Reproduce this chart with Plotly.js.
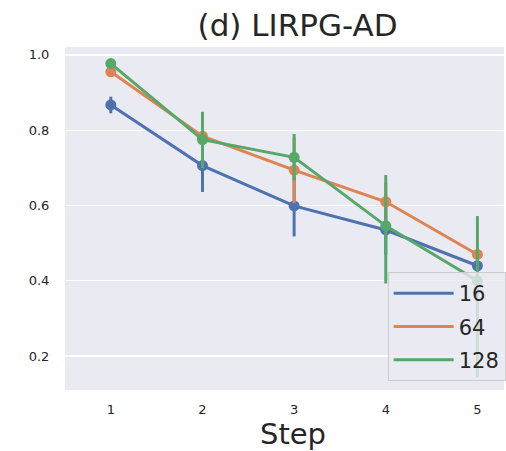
<!DOCTYPE html>
<html><head><meta charset="utf-8">
<script src="https://cdn.plot.ly/plotly-3.0.1.min.js"></script>
<style>html,body{margin:0;padding:0;background:#fff}</style>
</head><body><div id="chart" style="width:506px;height:451px"></div>
<script>
const steps = [1, 2, 3, 4, 5];
const seriesNames = ["16", "64", "128"];
const mean16 = [0.867, 0.706, 0.599, 0.535, 0.440];
const hi16 = [0.889, 0.770, 0.680, 0.600, 0.452];
const lo16 = [0.845, 0.636, 0.518, 0.470, 0.428];
const mean64 = [0.955, 0.784, 0.694, 0.610, 0.470];
const hi64 = [0.962, 0.800, 0.780, 0.660, 0.480];
const lo64 = [0.948, 0.768, 0.606, 0.560, 0.460];
const mean128 = [0.977, 0.775, 0.728, 0.546, 0.400];
const hi128 = [0.983, 0.849, 0.790, 0.681, 0.572];
const lo128 = [0.971, 0.699, 0.667, 0.393, 0.145];
const colors = ["#4c72b0", "#dd8452", "#55a868"];

const means = [mean16, mean64, mean128];
const his = [hi16, hi64, hi128];
const los = [lo16, lo64, lo128];

const traces = seriesNames.map((name, i) => ({
  type: "scatter", mode: "lines+markers", name: name, showlegend: false,
  legendgroup: "g" + i,
  x: steps, y: means[i],
  line: {color: colors[i], width: 3},
  marker: {color: colors[i], size: 11},
  error_y: {type: "data", symmetric: false,
    array: his[i].map((h, k) => h - means[i][k]),
    arrayminus: los[i].map((l, k) => means[i][k] - l),
    color: colors[i], thickness: 3, width: 0}
}));
// legend-only line entries (seaborn shows plain lines in the legend)
seriesNames.forEach((name, i) => traces.push({
  type: "scatter", mode: "lines", name: name, legendgroup: "g" + i,
  x: [null], y: [null], line: {color: colors[i], width: 3}
}));

const font = {family: "DejaVu Sans, sans-serif", color: "#262626"};
Plotly.newPlot("chart", traces, {
  width: 506, height: 451,
  margin: {l: 65, r: 0, t: 47, b: 61},
  paper_bgcolor: "#ffffff", plot_bgcolor: "#eaeaf2",
  font: font,
  title: {text: "(d) LIRPG-AD", font: {family: font.family, size: 31, color: "#262626"},
    x: 0.588, xanchor: "center", y: 0.945, yanchor: "middle"},
  xaxis: {range: [0.5, 5.29], tickvals: steps, ticktext: steps.map(String),
    showgrid: false, zeroline: false, showline: false,
    ticks: "outside", ticklen: 7, tickcolor: "rgba(0,0,0,0)",
    tickfont: {size: 13, color: "#262626"}},
  yaxis: {range: [0.11, 1.021], tickvals: [0.2, 0.4, 0.6, 0.8, 1.0],
    ticktext: ["0.2", "0.4", "0.6", "0.8", "1.0"],
    showgrid: true, gridcolor: "#ffffff", gridwidth: 1.3, zeroline: false, showline: false,
    ticks: "outside", ticklen: 12, tickcolor: "rgba(0,0,0,0)",
    tickfont: {size: 13, color: "#262626"}},
  annotations: [{text: "Step", xref: "paper", yref: "paper", x: 0.52, y: -0.1283,
    xanchor: "center", yanchor: "middle", showarrow: false,
    font: {size: 29, color: "#262626"}}],
  legend: {x: 0.735, y: 0.344, xanchor: "left", yanchor: "top",
    bgcolor: "rgba(234,234,242,0.8)", bordercolor: "#cccccc", borderwidth: 1,
    font: {size: 21, color: "#262626"}, itemwidth: 60, tracegroupgap: 3}
}, {displayModeBar: false, staticPlot: true});
</script></body></html>
